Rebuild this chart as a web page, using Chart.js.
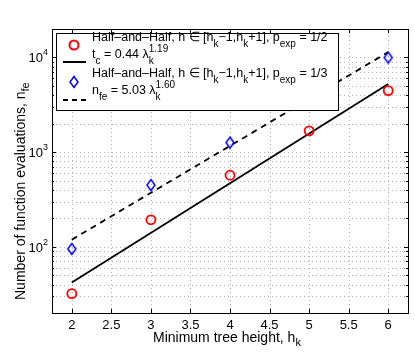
<!DOCTYPE html>
<html>
<head>
<meta charset="utf-8">
<script src="https://cdn.jsdelivr.net/npm/chart.js@4"></script>
<style>
  html, body { margin: 0; padding: 0; background: #fff; }
  #wrap { width: 415px; height: 352px; }
</style>
</head>
<body>
<div id="wrap"><canvas id="c" width="415" height="352"></canvas></div>
<script>
// data
const hk = [2, 3, 4, 5, 6];
const nfeHalf = [32, 193, 571, 1680, 4470];      // p_exp = 1/2 (red circles)
const nfeThird = [95, 449, 1262, null, 9980];    // p_exp = 1/3 (blue diamonds), x=5 hidden by legend
const fitX = [2, 6];
const fitTc = [42, 5260];      // t_c = 0.44 λ^1.19
const fitNfe = [119, 11400];   // n_fe = 5.03 λ^1.60
const xTicks = [2, 2.5, 3, 3.5, 4, 4.5, 5, 5.5, 6];
const yDecades = [100, 1000, 10000];
const yMinor = [20,30,40,50,60,70,80,90,100,200,300,400,500,600,700,800,900,1000,2000,3000,4000,5000,6000,7000,8000,9000,10000,20000];

const FONT = "'Liberation Sans', Arial, Helvetica, sans-serif";
const pts = (xs, ys) => xs.map((x, i) => ({ x, y: ys[i] }));

// matlab-like narrow diamond marker
function diamondPath(ctx, cx, cy) {
  ctx.beginPath();
  ctx.moveTo(cx, cy - 5.5); ctx.lineTo(cx + 4, cy); ctx.lineTo(cx, cy + 5.5); ctx.lineTo(cx - 4, cy); ctx.closePath();
}
const diamondImg = document.createElement("canvas");
diamondImg.width = 12; diamondImg.height = 14;
{
  const g = diamondImg.getContext("2d");
  g.strokeStyle = "#0000ff"; g.lineWidth = 1.5;
  diamondPath(g, 6, 7); g.stroke();
}

// text with sub/superscripts: segs = [{t, sub, sup, stack}]
function richText(ctx, x, y, segs, size, small, off) {
  let cx = x, subStart = x;
  for (const s of segs) {
    const isSmall = s.sub || s.sup;
    ctx.font = (isSmall ? small : size) + "px " + FONT;
    let dx = cx;
    if (s.stack) dx = subStart;
    const dy = s.sub ? off : s.sup ? -off : 0;
    if (s.sub) subStart = cx;
    ctx.fillText(s.t, dx, y + dy);
    const w = ctx.measureText(s.t).width;
    if (s.stack) cx = Math.max(cx, dx + w); else cx = dx + w;
  }
  return cx;
}

const legendItems = [
  { kind: "circle", ty: 41, sy: 45, segs: [{t:"Half\u2013and\u2013Half, h \u2208 [h"},{t:"k",sub:1},{t:"\u22121,h"},{t:"k",sub:1},{t:"+1], p"},{t:"exp",sub:1},{t:" = 1/2"}] },
  { kind: "solid", ty: 58, sy: 62, segs: [{t:"t"},{t:"c",sub:1},{t:" = 0.44 \u03bb"},{t:"k",sub:1},{t:"1.19",sup:1,stack:1}] },
  { kind: "diamond", ty: 77, sy: 82, segs: [{t:"Half\u2013and\u2013Half, h \u2208 [h"},{t:"k",sub:1},{t:"\u22121,h"},{t:"k",sub:1},{t:"+1], p"},{t:"exp",sub:1},{t:" = 1/3"}] },
  { kind: "dashed", ty: 93.5, sy: 100, segs: [{t:"n"},{t:"fe",sub:1},{t:" = 5.03 \u03bb"},{t:"k",sub:1},{t:"1.60",sup:1,stack:1}] },
];

function plotBox(chart) {
  const xs = chart.scales.x, ys = chart.scales.y;
  return {
    l: Math.round(xs.getPixelForValue(1.75)), r: Math.round(xs.getPixelForValue(6.25)),
    t: Math.round(ys.getPixelForValue(20000)), b: Math.round(ys.getPixelForValue(20))
  };
}

const matlabPlugin = {
  id: "matlab",
  // dotted grid under the data
  beforeDatasetsDraw(chart) {
    const ctx = chart.ctx, a = plotBox(chart);
    const xs = chart.scales.x, ys = chart.scales.y;
    ctx.save();
    ctx.beginPath(); ctx.rect(a.l, a.t, a.r - a.l, a.b - a.t); ctx.clip();
    ctx.strokeStyle = "#b4b4b4"; ctx.lineWidth = 1;
    ctx.setLineDash([1, 3]);
    ctx.beginPath();
    for (const v of xTicks) {
      const px = Math.round(xs.getPixelForValue(v)) + 0.5;
      ctx.moveTo(px, a.b); ctx.lineTo(px, a.t);
    }
    for (const v of yMinor) {
      const py = Math.round(ys.getPixelForValue(v)) + 0.5;
      ctx.moveTo(a.l, py); ctx.lineTo(a.r, py);
    }
    ctx.stroke();
    ctx.restore();
  },
  afterDraw(chart) {
    const ctx = chart.ctx, a = plotBox(chart);
    const xs = chart.scales.x, ys = chart.scales.y;
    ctx.save();
    ctx.setLineDash([]);
    // inner tick marks
    ctx.strokeStyle = "#000"; ctx.lineWidth = 1;
    ctx.beginPath();
    for (const v of xTicks) {
      const px = Math.round(xs.getPixelForValue(v)) + 0.5;
      ctx.moveTo(px, a.b); ctx.lineTo(px, a.b - 4);
      ctx.moveTo(px, a.t); ctx.lineTo(px, a.t + 4);
    }
    for (const v of yMinor) {
      const py = Math.round(ys.getPixelForValue(v)) + 0.5;
      const len = yDecades.includes(v) ? 4 : 2;
      ctx.moveTo(a.l, py); ctx.lineTo(a.l + len, py);
      ctx.moveTo(a.r, py); ctx.lineTo(a.r - len, py);
    }
    ctx.stroke();
    // box
    ctx.strokeRect(a.l + 0.5, a.t + 0.5, a.r - a.l, a.b - a.t);

    // y decade labels
    ctx.fillStyle = "#000"; ctx.textBaseline = "alphabetic"; ctx.textAlign = "left";
    for (const v of yDecades) {
      const py = ys.getPixelForValue(v);
      ctx.font = "13px " + FONT;
      const w = ctx.measureText("10").width;
      ctx.font = "9px " + FONT;
      const e = String(Math.log10(v));
      const we = ctx.measureText(e).width;
      const x0 = a.l - 4 - w - we;
      ctx.font = "13px " + FONT;
      ctx.fillText("10", x0, py + 5);
      ctx.font = "9px " + FONT;
      ctx.fillText(e, x0 + w, py - 2);
    }

    // x tick labels
    ctx.font = "13px " + FONT; ctx.textAlign = "center";
    for (const v of xTicks) ctx.fillText(String(v), xs.getPixelForValue(v), a.b + 16);
    ctx.textAlign = "left";

    // axis titles
    richText(ctx, (a.l + a.r) / 2 - 77, 342, [{t:"Minimum tree height, h"},{t:"k",sub:1}], 14, 11, 4);
    ctx.save();
    ctx.translate(25, 300);
    ctx.rotate(-Math.PI / 2);
    richText(ctx, 0, 0, [{t:"Number of function evaluations, n"},{t:"fe",sub:1}], 14, 11, 4);
    ctx.restore();

    // legend box over the data
    const L = { l: 56, t: 33, r: 338, b: 110 };
    ctx.fillStyle = "#fff";
    ctx.fillRect(L.l, L.t, L.r - L.l, L.b - L.t);
    ctx.strokeStyle = "#000"; ctx.lineWidth = 1;
    ctx.strokeRect(L.l + 0.5, L.t + 0.5, L.r - L.l, L.b - L.t);
    for (const it of legendItems) {
      const cx = 74, cy = it.sy;
      ctx.lineWidth = 2;
      ctx.setLineDash([]);
      if (it.kind === "circle") {
        ctx.strokeStyle = "#ff0000";
        ctx.beginPath(); ctx.arc(cx, cy, 4.5, 0, Math.PI * 2); ctx.stroke();
      } else if (it.kind === "diamond") {
        ctx.strokeStyle = "#0000ff"; ctx.lineWidth = 1.5;
        diamondPath(ctx, cx, cy); ctx.stroke();
      } else {
        ctx.strokeStyle = "#000";
        if (it.kind === "dashed") ctx.setLineDash([5, 4]);
        ctx.beginPath(); ctx.moveTo(63, cy); ctx.lineTo(86, cy); ctx.stroke();
        ctx.setLineDash([]);
      }
      ctx.fillStyle = "#000";
      richText(ctx, 92, it.ty, it.segs, 12.5, 10, 6);
    }
    ctx.restore();
  }
};

new Chart(document.getElementById("c"), {
  type: "scatter",
  data: {
    datasets: [
      { label: "fit tc", data: pts(fitX, fitTc), showLine: true, borderColor: "#000", borderWidth: 1.8, pointRadius: 0, order: 3 },
      { label: "fit nfe", data: pts(fitX, fitNfe), showLine: true, borderColor: "#000", borderWidth: 1.8, borderDash: [6, 5], pointRadius: 0, order: 3 },
      { label: "p 1/2", data: pts(hk, nfeHalf), pointStyle: "circle", pointRadius: 4.5, borderColor: "#ff0000", backgroundColor: "rgba(0,0,0,0)", pointBorderWidth: 1.8, order: 1 },
      { label: "p 1/3", data: pts(hk, nfeThird), pointStyle: diamondImg, pointRadius: 6, borderColor: "#0000ff", order: 1 },
    ]
  },
  options: {
    responsive: false,
    animation: false,
    layout: { padding: { top: 29, right: 3, left: 0, bottom: 0 } },
    plugins: { legend: { display: false }, tooltip: { enabled: false } },
    scales: {
      x: {
        type: "linear", min: 1.75, max: 6.25,
        afterBuildTicks: s => { s.ticks = xTicks.map(v => ({ value: v })); },
        afterFit: s => { s.height = 39; },
        grid: { display: false },
        border: { display: false },
        ticks: { display: false }
      },
      y: {
        type: "logarithmic", min: 20, max: 20000,
        afterBuildTicks: s => { s.ticks = yMinor.map(v => ({ value: v })); },
        afterFit: s => { s.width = 52; },
        grid: { display: false },
        border: { display: false },
        ticks: { display: false }
      }
    }
  },
  plugins: [matlabPlugin]
});
</script>
</body>
</html>
